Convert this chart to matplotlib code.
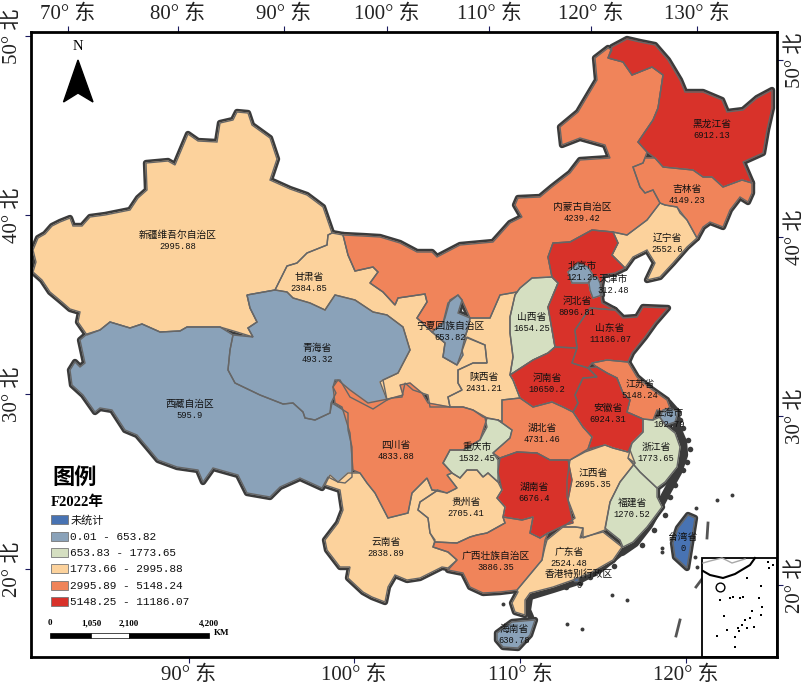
import matplotlib
matplotlib.use('Agg')
import matplotlib.pyplot as plt
from matplotlib.patches import Rectangle

# class breaks and colours from the legend
breaks = [653.82, 1773.65, 2995.88, 5148.24, 11186.07]
class_colors = ['#4873b3', '#8aa2b9', '#d5dfc1', '#fcd29c', '#f0845a', '#d8322a']
legend_labels = ['未统计', '0.01 - 653.82', '653.83 - 1773.65', '1773.66 - 2995.88',
                 '2995.89 - 5148.24', '5148.25 - 11186.07']

names = ['新疆维吾尔自治区', '西藏自治区', '青海省', '甘肃省', '内蒙古自治区', '黑龙江省', '吉林省', '辽宁省',
         '山西省', '河北省', '北京市', '天津市', '山东省', '河南省', '江苏省', '安徽省', '上海市', '浙江省',
         '福建省', '江西省', '湖北省', '湖南省', '陕西省', '宁夏回族自治区', '重庆市', '四川省', '贵州省',
         '云南省', '广西壮族自治区', '广东省', '海南省', '台湾省', '香港特别行政区']
values = ['2995.88', '595.9', '493.32', '2384.85', '4239.42', '6912.13', '4149.23', '2552.6',
          '1654.25', '8096.81', '121.25', '312.48', '11186.07', '10650.2', '5148.24', '6924.31', '102.79', '1773.65',
          '1270.52', '2695.35', '4731.46', '6676.4', '2431.21', '653.82', '1532.45', '4833.88', '2705.41',
          '2838.89', '3886.35', '2524.48', '630.78', '0', '0']
label_x = [178, 190, 317, 309, 582, 712, 687, 667, 532, 577, 582, 613, 610, 547, 640, 608, 669, 656,
           632, 593, 542, 534, 484, 450, 477, 396, 466, 386, 496, 569, 514, 683, 579]
label_y = [235, 404, 348, 277, 207, 124, 189, 238, 317, 301, 266, 279, 328, 378, 384, 408, 413, 447,
           503, 473, 428, 487, 377, 326, 447, 445, 502, 542, 556, 552, 629, 537, 574]

# outlines
xinjiang = [(70,218),(73,226),(82,226),(90,217),(105,215),(130,210),(138,198),(147,190),(146,163),(168,161),(175,165),(188,134),(198,141),(217,142),(220,123),(233,120),(237,112),(248,113),(252,125),(270,138),(277,159),(270,180),(290,189),(307,195),(323,207),(332,233),(328,235),(327,245),(307,253),(297,263),(287,266),(275,290),(247,295),(250,308),(257,322),(248,328),(253,337),(237,332),(220,327),(187,327),(180,331),(160,332),(142,324),(130,328),(110,322),(100,330),(87,335),(78,322),(80,312),(70,309),(62,302),(50,292),(42,280),(33,272),(36,262),(33,250),(38,238),(45,234),(52,226),(60,222)]
tibet = [(87,334),(100,330),(110,322),(130,328),(142,324),(160,332),(180,331),(187,327),(220,327),(233,335),(230,350),(228,370),(235,383),(260,395),(283,404),(293,403),(303,412),(305,418),(315,420),(330,413),(332,403),(348,413),(348,430),(352,447),(352,477),(345,483),(338,482),(328,477),(322,488),(300,478),(280,487),(270,497),(247,493),(238,475),(213,468),(203,482),(198,470),(177,467),(158,460),(148,448),(137,435),(125,430),(112,410),(100,408),(95,412),(83,395),(72,385),(70,370),(75,362),(80,367),(85,363),(80,340)]
qinghai = [(233,335),(253,337),(248,328),(257,322),(250,308),(247,295),(275,290),(287,292),(293,298),(310,303),(325,310),(335,295),(347,298),(355,300),(373,312),(387,315),(403,327),(410,350),(398,373),(383,380),(387,400),(373,409),(350,397),(340,380),(335,380),(333,387),(336,393),(331,403),(330,413),(315,420),(305,418),(303,412),(293,403),(283,404),(260,395),(235,383),(228,370),(230,350)]
gansu = [(332,233),(343,235),(348,255),(355,271),(373,267),(378,272),(370,283),(383,292),(395,305),(398,298),(425,294),(427,302),(417,318),(432,332),(445,343),(443,357),(457,365),(467,337),(485,345),(487,363),(473,363),(458,370),(458,383),(462,390),(448,397),(450,407),(430,407),(428,395),(413,390),(405,383),(402,397),(392,398),(387,400),(380,382),(383,380),(398,373),(410,350),(403,327),(387,315),(373,312),(355,300),(347,298),(335,295),(325,310),(310,303),(293,298),(287,292),(275,290),(287,266),(297,263),(307,253),(327,245),(328,235)]
inner_mongolia = [(343,235),(363,236),(380,237),(400,243),(417,252),(432,252),(437,257),(460,245),(493,242),(510,223),(522,217),(515,205),(518,198),(540,197),(552,187),(570,173),(580,160),(610,158),(605,145),(580,138),(562,145),(560,127),(578,112),(597,80),(595,58),(608,48),(612,50),(608,58),(623,62),(632,75),(652,67),(663,75),(658,108),(653,120),(638,142),(647,152),(643,163),(633,167),(640,187),(645,193),(653,190),(660,203),(647,220),(627,235),(613,232),(592,230),(570,242),(553,243),(548,257),(552,277),(532,278),(520,288),(517,292),(500,295),(490,318),(470,318),(462,300),(458,295),(450,300),(445,318),(443,323),(432,332),(417,318),(427,302),(425,294),(398,298),(395,305),(383,292),(370,283),(378,272),(373,267),(355,271),(348,255)]
heilongjiang = [(612,47),(627,39),(640,42),(655,45),(668,60),(680,80),(685,92),(703,92),(722,100),(727,112),(743,110),(757,98),(772,90),(772,108),(767,130),(763,153),(743,162),(752,183),(742,180),(723,187),(712,177),(703,177),(693,170),(663,167),(655,158),(647,152),(638,142),(653,120),(658,108),(663,75),(652,67),(632,75),(623,62),(608,58)]
jilin = [(645,158),(655,158),(663,167),(693,170),(703,177),(712,177),(723,187),(742,180),(752,183),(752,193),(748,202),(740,197),(730,210),(723,227),(710,222),(703,227),(697,238),(687,220),(680,213),(677,207),(665,205),(660,203),(653,190),(645,193),(640,187),(633,167),(643,163)]
liaoning = [(665,205),(677,207),(687,220),(697,238),(687,247),(673,263),(660,277),(647,280),(655,263),(647,250),(633,257),(625,268),(612,255),(618,243),(613,232),(627,235),(647,220),(660,203)]
shanxi = [(532,278),(552,277),(558,283),(548,307),(555,347),(548,353),(533,360),(510,375),(513,357),(510,333),(510,317),(515,295),(520,288)]
hebei = [(553,243),(570,242),(592,230),(613,232),(618,243),(612,255),(625,268),(615,273),(603,275),(600,292),(602,303),(615,310),(590,308),(575,330),(577,348),(555,347),(548,307),(558,283),(552,277),(548,257)]
beijing = [(568,272),(578,263),(588,267),(593,275),(588,283),(572,283)]
tianjin = [(589,283),(592,277),(597,277),(600,283),(602,295),(593,298),(590,290)]
shandong = [(575,330),(590,308),(615,310),(623,318),(637,317),(643,307),(668,308),(655,323),(645,337),(632,353),(628,362),(607,360),(592,363),(588,368),(572,363),(577,348)]
henan = [(510,375),(533,360),(548,353),(555,347),(577,348),(572,363),(588,368),(597,377),(583,378),(575,395),(578,403),(573,412),(563,407),(552,402),(533,407),(520,398),(513,380)]
jiangsu = [(592,363),(607,360),(628,362),(637,377),(650,388),(667,400),(670,408),(665,412),(657,410),(653,420),(643,419),(627,412),(630,400),(623,393),(617,378),(607,373),(597,367)]
anhui = [(588,368),(597,367),(607,373),(617,378),(623,393),(630,400),(627,412),(643,419),(643,432),(632,443),(628,452),(613,448),(605,445),(588,449),(592,437),(583,427),(573,412),(578,403),(575,395),(583,378),(597,377)]
shanghai = [(663,410),(670,408),(678,412),(675,422),(666,425),(660,418)]
zhejiang = [(643,419),(653,420),(660,417),(665,425),(675,433),(680,447),(677,467),(665,482),(657,488),(640,472),(628,458),(632,443),(643,432)]
fujian = [(628,458),(640,472),(657,488),(657,497),(662,507),(647,527),(633,542),(623,547),(620,540),(605,528),(610,502),(620,482),(635,463)]
jiangxi = [(570,460),(585,452),(605,445),(613,448),(628,452),(630,450),(635,463),(620,482),(610,502),(605,530),(583,538),(583,528),(575,527),(563,527),(575,518),(567,497),(567,480)]
hubei = [(502,400),(520,398),(533,407),(552,402),(563,407),(573,412),(583,427),(592,437),(588,449),(570,460),(550,460),(537,453),(517,452),(500,458),(493,453),(510,438),(512,430),(498,420),(502,422)]
hunan = [(500,458),(517,452),(537,453),(550,460),(568,460),(572,480),(568,500),(573,523),(565,525),(548,533),(540,538),(530,533),(533,517),(522,520),(503,517),(505,507),(497,498),(502,490),(498,472)]
shaanxi = [(517,292),(500,295),(490,318),(470,318),(468,328),(465,337),(485,345),(487,363),(473,363),(458,370),(458,383),(462,390),(448,397),(450,407),(463,407),(473,410),(483,417),(498,420),(502,422),(502,400),(520,398),(513,380),(510,375),(513,357),(510,333),(510,317),(515,295)]
ningxia = [(458,295),(462,300),(458,313),(470,318),(468,328),(465,337),(462,350),(463,355),(457,365),(443,357),(445,343),(432,332),(443,323),(448,303)]
chongqing = [(485,418),(498,420),(512,430),(510,438),(493,453),(498,460),(498,482),(488,473),(483,477),(477,470),(467,470),(460,478),(452,473),(443,463),(450,450),(463,450),(480,440),(487,427)]
sichuan = [(338,380),(333,387),(335,403),(342,407),(350,433),(353,470),(360,473),(367,483),(375,493),(388,518),(408,513),(412,493),(420,485),(427,478),(432,490),(447,493),(457,488),(447,475),(452,473),(443,463),(450,450),(463,450),(480,440),(487,418),(473,410),(463,407),(450,407),(428,403),(422,393),(410,383),(400,385),(403,395),(392,398),(383,400),(368,403),(350,390)]
guizhou = [(428,518),(418,510),(420,502),(438,490),(447,493),(457,488),(447,475),(452,473),(460,478),(467,470),(477,470),(483,477),(488,473),(498,482),(502,490),(497,498),(505,507),(503,517),(505,523),(487,533),(477,535),(470,537),(457,543),(435,542),(430,533)]
yunnan = [(348,473),(360,473),(367,483),(375,493),(388,518),(408,513),(412,493),(420,485),(427,478),(432,490),(438,490),(420,502),(418,510),(428,518),(430,533),(435,540),(433,547),(448,552),(457,560),(448,568),(442,567),(420,578),(407,580),(395,575),(388,587),(385,602),(372,597),(363,592),(348,578),(350,567),(340,567),(327,550),(325,540),(338,523),(343,510),(340,490),(325,485),(330,475),(338,482)]
guangxi = [(435,542),(457,543),(470,537),(477,535),(487,533),(505,523),(503,517),(522,520),(533,517),(530,533),(540,538),(548,533),(545,540),(542,560),(527,578),(517,590),(500,592),(483,593),(470,587),(463,573),(448,570),(457,560),(448,552),(433,547)]
guangdong = [(547,540),(563,527),(575,527),(583,528),(580,538),(603,532),(622,547),(613,560),(592,572),(573,580),(553,587),(530,593),(525,600),(525,615),(515,612),(512,603),(518,592),(517,590),(527,578),(542,560),(545,547)]
hainan = [(497,633),(512,622),(535,620),(530,635),(518,648),(503,647),(497,640)]
taiwan = [(688,515),(695,518),(692,537),(687,568),(675,557),(673,543),(678,528)]
hongkong = [(574,578),(578,578),(578,581),(574,581)]
outlines = [xinjiang, tibet, qinghai, gansu, inner_mongolia, heilongjiang, jilin, liaoning,
            shanxi, hebei, beijing, tianjin, shandong, henan, jiangsu, anhui, shanghai, zhejiang,
            fujian, jiangxi, hubei, hunan, shaanxi, ningxia, chongqing, sichuan, guizhou,
            yunnan, guangxi, guangdong, hainan, taiwan, hongkong]

# the dark island-studded coasts
east_coast = [(668,403),(676,412),(677,428),(683,442),(684,455),(678,472),(668,490),(660,505),(649,525),(635,543),(622,552)]
south_coast = [(622,552),(600,570),(575,583),(553,590),(530,597)]
leizhou = [(530,597),(528,610),(531,617)]
islands = [(612,595),(627,600),(503,604),(567,624),(582,629),(662,548),(662,552),(695,557),(697,567),(696,508),(717,500),(732,495),(669,497)]
coast_bits = [(683,428),(680,420),(688,440),(690,449),(687,462),(683,470),(675,485),(670,497),(665,515),(654,530),(642,545),(614,566),(590,577),(580,583),(566,587)]
dashes = [((708,523),(707,538)), ((705,575),(696,587)), ((680,620),(676,636))]

# inset of the south sea
inset_coast = [(703,571),(710,575),(723,578),(735,574),(750,565),(755,558)]
inset_land = [(703,563),(710,561),(722,558),(732,563),(745,559)]
inset_specks_x = [747,761,720,730,733,740,743,759,762,761,724,745,750,742,747,738,727,717,735,735,739,754,752,768,769,773]
inset_specks_y = [578,586,600,598,597,598,597,598,607,615,616,620,618,625,628,628,630,636,637,647,631,627,611,562,568,565]

x_bottom_pos = [189, 354, 520, 686]
x_bottom_lab = ['90° 东', '100° 东', '110° 东', '120° 东']
x_top_pos = [67.5, 178, 284, 387, 489, 591, 697]
x_top_lab = ['70° 东', '80° 东', '90° 东', '100° 东', '110° 东', '120° 东', '130° 东']
y_left_pos = [36, 215, 394, 569]
y_left_lab = ['50° 北', '40° 北', '30° 北', '20° 北']
y_right_pos = [60, 237, 416, 585]
y_right_lab = ['50° 北', '40° 北', '30° 北', '20° 北']

legend_y = [520, 537, 553, 569, 586, 602]
scale_pos = [50, 91, 129, 209]
scale_lab = ['0', '1,050', '2,100', '4,200']


def class_color(v):
    v = float(v)
    if v <= 0:
        return class_colors[0]
    for i, b in enumerate(breaks):
        if v <= b:
            return class_colors[i + 1]
    return class_colors[-1]


serif = ['Liberation Serif', 'Noto Sans CJK SC']
cjk = ['Noto Sans CJK SC', 'DejaVu Sans']
dark = '#3b3b3b'
tick_c = '#1b1b5e'

fig = plt.figure(figsize=(8.09, 6.90), dpi=100)
ax = fig.add_axes([31 / 809, 1 - 657 / 690, 746 / 809, 625 / 690])
ax.set_xlim(31, 777)
ax.set_ylim(657, 32)

# thick dark pass first, fills on top leave only the outer edge showing
for poly in outlines:
    xs, ys = zip(*poly)
    ax.fill(xs, ys, facecolor=dark, edgecolor=dark, lw=4.6, joinstyle='round', zorder=2)
for line, w in [(east_coast, 6), (south_coast, 4.5), (leizhou, 4.5)]:
    xs, ys = zip(*line)
    ax.plot(xs, ys, color=dark, lw=w, solid_capstyle='round', zorder=2)
ix, iy = zip(*islands)
ax.scatter(ix, iy, s=8, color=dark, lw=0, zorder=2)
cx, cy = zip(*coast_bits)
ax.scatter(cx, cy, s=16, color=dark, lw=0, zorder=2)
for a, b in dashes:
    ax.plot([a[0], b[0]], [a[1], b[1]], color='#555555', lw=2.0, zorder=2)

# own colour pass closes the small gaps between neighbours
for poly, val in zip(outlines, values):
    xs, ys = zip(*poly)
    ax.fill(xs, ys, facecolor=class_color(val), edgecolor=class_color(val), lw=0.9, zorder=3)
for poly in outlines:
    xs, ys = zip(*poly)
    ax.fill(xs, ys, facecolor='none', edgecolor='#666666', lw=1.0, zorder=4)

for n, v, x, y in zip(names, values, label_x, label_y):
    ax.text(x, y, n, ha='center', va='center', fontsize=7, family=cjk, color='#111111', zorder=5)
    ax.text(x, y + 12, v, ha='center', va='center', fontsize=6.3, family='Liberation Mono', color='#111111', zorder=5)

# inset
ax.add_patch(Rectangle((702, 558), 75, 99, facecolor='white', edgecolor='black', lw=1.3, zorder=6))
xs, ys = zip(*inset_land)
ax.plot(xs, ys, color='#a8a8a8', lw=1.0, zorder=7)
xs, ys = zip(*inset_coast)
ax.plot(xs, ys, color='black', lw=1.5, zorder=7)
ax.scatter([720], [587], s=40, marker='o', facecolor='white', edgecolor='black', lw=1.0, zorder=7)
ax.scatter(inset_specks_x, inset_specks_y, s=1.5, color='black', lw=0, marker='s', zorder=7)

# north arrow
ax.fill([78, 63.5, 78, 93], [60, 102, 93, 102], color='black', zorder=8)
ax.text(78, 47, 'N', ha='center', va='center', fontsize=10.5, family='Liberation Serif', zorder=8)

# legend
ax.text(75, 477, '图例', ha='center', va='center', fontsize=16, family=cjk, fontweight='bold', zorder=8)
ax.text(51, 502, 'F2022年', ha='left', va='center', fontsize=10.5, family=serif, fontweight='bold', zorder=8)
for c, lab, y in zip(class_colors, legend_labels, legend_y):
    ax.add_patch(Rectangle((51, y - 4.5), 17, 9, facecolor=c, edgecolor='#777777', lw=0.6, zorder=8))
    ax.text(70.5, y, lab, ha='left', va='center', fontsize=8, family=['Liberation Mono', 'Noto Sans CJK SC'],
            color='#111111', zorder=8)

# scale bar
for i in range(3):
    c = 'white' if i == 1 else 'black'
    ax.add_patch(Rectangle((scale_pos[i], 633.5), scale_pos[i + 1] - scale_pos[i], 4.5,
                           facecolor=c, edgecolor='black', lw=0.5, zorder=8))
for p, lab in zip(scale_pos, scale_lab):
    ax.text(p, 623, lab, ha='center', va='center', fontsize=6.5, family='Liberation Serif',
            fontweight='bold', zorder=8)
ax.text(214, 633, 'KM', ha='left', va='center', fontsize=6.5, family='Liberation Serif', fontweight='bold', zorder=8)

# frame and graticule ticks
for s in ax.spines.values():
    s.set_linewidth(2.0)
    s.set_color('black')
    s.set_zorder(9)
ax.set_xticks(x_bottom_pos)
ax.set_xticklabels(x_bottom_lab, family=serif, fontsize=15, color='#222222')
ax.set_yticks(y_left_pos)
ax.set_yticklabels(y_left_lab, family=serif, fontsize=15, rotation=90, va='center', color='#222222')
ax.tick_params(length=4.5, width=0.8, color=tick_c, pad=2)

top = ax.secondary_xaxis('top')
top.set_xticks(x_top_pos)
top.set_xticklabels(x_top_lab, family=serif, fontsize=15, color='#222222')
top.tick_params(length=4.5, width=0.8, color=tick_c, pad=1)
top.spines['top'].set_visible(False)

right = ax.secondary_yaxis('right')
right.set_yticks(y_right_pos)
right.set_yticklabels(y_right_lab, family=serif, fontsize=15, rotation=90, va='center', color='#222222')
right.tick_params(length=4.5, width=0.8, color=tick_c, pad=2)
right.spines['right'].set_visible(False)

fig.savefig('out.png', dpi=100, facecolor='white')
